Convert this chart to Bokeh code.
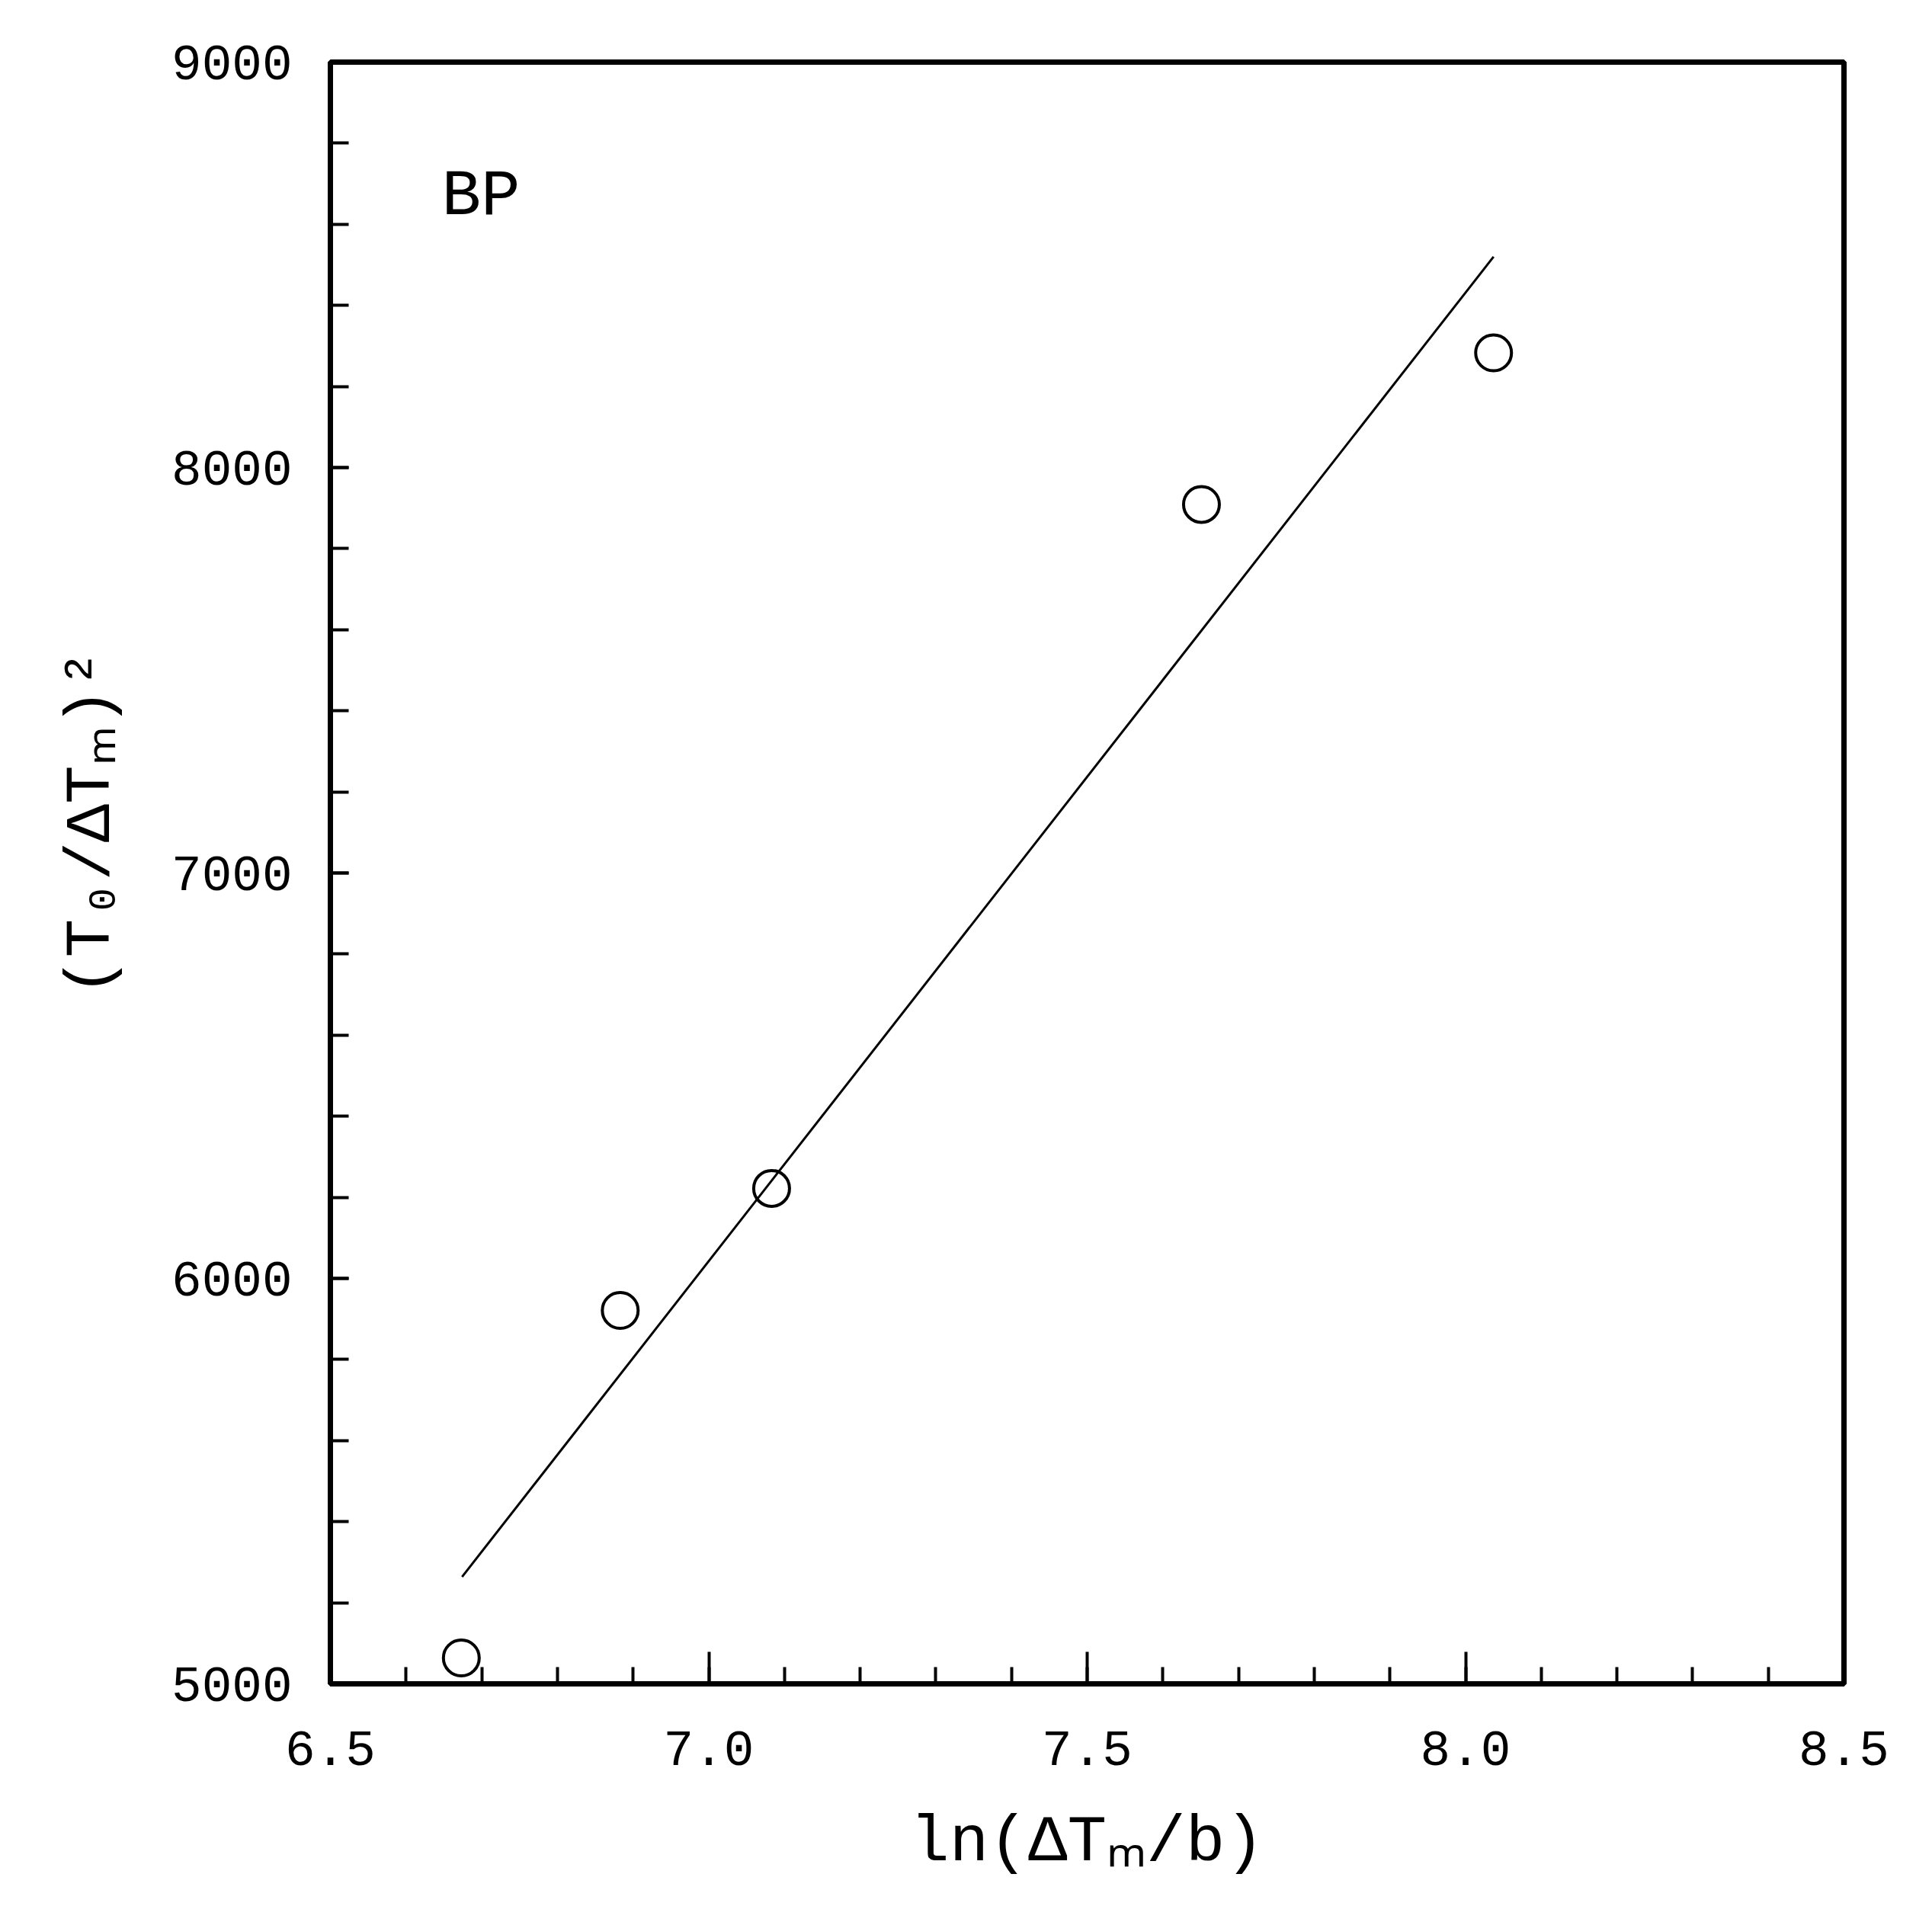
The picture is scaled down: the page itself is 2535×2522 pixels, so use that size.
from bokeh.plotting import figure
from bokeh.models import SingleIntervalTicker, NumeralTickFormatter, Label, Range1d, Title
from bokeh.embed import file_html
from bokeh.resources import INLINE

# data
ln_dt_b = [6.673, 6.883, 7.083, 7.651, 8.037]
t0_dtm_sq = [5064, 5921, 6222, 7909, 8283]
fit_x = [6.674, 8.037]
fit_y = [5264, 8520]

x_axis_label = "ln(ΔTₘ/b)"
y_axis_label = "(T₀/ΔTₘ)²"
sample_name = "BP"

FONT = "Liberation Mono"

p = figure(width=2500, height=2500, output_backend="svg", toolbar_location=None,
           x_range=Range1d(6.5, 8.5), y_range=Range1d(5000, 9000),
           min_border_left=433, min_border_right=81, min_border_top=81, min_border_bottom=291)

p.xgrid.visible = False
p.ygrid.visible = False
p.background_fill_color = "white"
p.border_fill_color = "white"
p.outline_line_color = "black"
p.outline_line_width = 7

# x axis
xa = p.xaxis[0]
xa.ticker = SingleIntervalTicker(interval=0.5, num_minor_ticks=5)
xa.formatter = NumeralTickFormatter(format="0.0")
xa.axis_line_width = 7
xa.axis_line_color = "black"
xa.major_tick_in = 42
xa.major_tick_out = 0
xa.minor_tick_in = 22
xa.minor_tick_out = 0
xa.major_tick_line_width = 4
xa.minor_tick_line_width = 4
xa.major_tick_line_color = "black"
xa.minor_tick_line_color = "black"
xa.major_label_text_font = FONT
xa.major_label_text_font_size = "66px"
xa.major_label_text_color = "black"
xa.major_label_standoff = 62
xa.axis_label = x_axis_label
xa.axis_label_text_font = FONT
xa.axis_label_text_font_size = "86px"
xa.axis_label_text_font_style = "normal"
xa.axis_label_text_color = "black"
xa.axis_label_standoff = 50

# y axis
ya = p.yaxis[0]
ya.ticker = SingleIntervalTicker(interval=1000, num_minor_ticks=5)
ya.formatter = NumeralTickFormatter(format="0")
ya.axis_line_width = 7
ya.axis_line_color = "black"
ya.major_tick_in = 24
ya.major_tick_out = 0
ya.minor_tick_in = 24
ya.minor_tick_out = 0
ya.major_tick_line_width = 4
ya.minor_tick_line_width = 4
ya.major_tick_line_color = "black"
ya.minor_tick_line_color = "black"
ya.major_label_text_font = FONT
ya.major_label_text_font_size = "66px"
ya.major_label_text_color = "black"
ya.major_label_standoff = 50

p.line(fit_x, fit_y, line_color="black", line_width=3)
p.scatter(ln_dt_b, t0_dtm_sq, marker="circle", size=47, fill_color=None,
          line_color="black", line_width=4)

p.add_layout(Label(x=6.647, y=8668, text=sample_name, text_font=FONT,
                   text_font_size="86px", text_baseline="alphabetic", text_color="black"))

# y axis title as a side title so it can sit a little above the centre
yt = Title(text=y_axis_label, align="right", offset=771, text_font=FONT,
           text_font_size="84px", text_font_style="normal", text_color="black")
try:
    yt.standoff = 110
except Exception:
    pass
p.add_layout(yt, "left")

open("out.html", "w").write(file_html(p, INLINE))
